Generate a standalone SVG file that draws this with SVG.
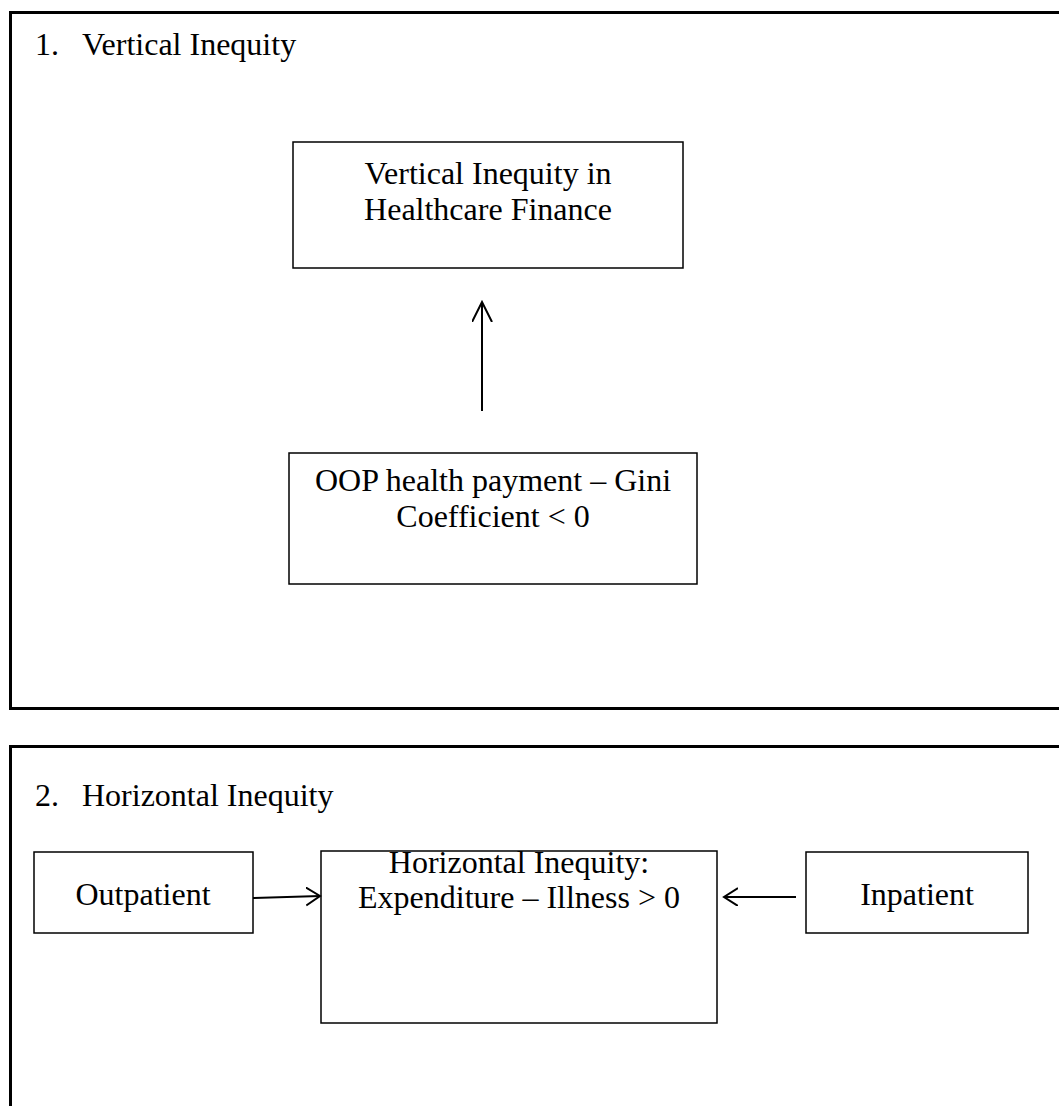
<svg xmlns="http://www.w3.org/2000/svg" width="1059" height="1106" viewBox="0 0 1059 1106">
<style>
.frame{fill:none;stroke:#000;stroke-width:3}
.box{fill:#fff;stroke:#000;stroke-width:1.5}
.t{font-family:"Liberation Serif","Times New Roman",serif;font-size:32px;fill:#000}
.c{text-anchor:middle}
.conn{stroke:#000;stroke-width:2;fill:none}
</style>
<defs>
<marker id="ahv" markerWidth="22" markerHeight="22" refX="20" refY="10" orient="auto" markerUnits="userSpaceOnUse" viewBox="0 0 22 22">
<path d="M0,0 L20,10 L0,20" fill="none" stroke="#000" stroke-width="2"/>
</marker>
<marker id="ahh" markerWidth="16" markerHeight="20" refX="14" refY="9" orient="auto" markerUnits="userSpaceOnUse" viewBox="0 0 16 20">
<path d="M0,0 L14,9 L0,18" fill="none" stroke="#000" stroke-width="2"/>
</marker>
</defs>
<rect width="1059" height="1106" fill="#fff"/>
<g id="section1">
<rect class="frame" x="10.5" y="12.5" width="1060" height="696"/>
<text class="t" x="35" y="55">1.</text>
<text class="t" x="82" y="55">Vertical Inequity</text>
</g>
<g id="section2">
<rect class="frame" x="10.5" y="746.5" width="1060" height="400"/>
<text class="t" x="35" y="806">2.</text>
<text class="t" x="82" y="806">Horizontal Inequity</text>
</g>
<g id="node-vertical">
<rect class="box" x="293" y="142" width="390" height="126"/>
<text class="t c" x="488" y="184">Vertical Inequity in</text>
<text class="t c" x="488" y="220">Healthcare Finance</text>
</g>
<g id="node-oop">
<rect class="box" x="289" y="453" width="408" height="131"/>
<text class="t c" x="493" y="491">OOP health payment – Gini</text>
<text class="t c" x="493" y="527">Coefficient &lt; 0</text>
</g>
<g id="node-horizontal">
<rect class="box" x="321" y="851" width="396" height="172"/>
<text class="t c" x="519" y="873">Horizontal Inequity:</text>
<text class="t c" x="519" y="908">Expenditure – Illness &gt; 0</text>
</g>
<g id="node-outpatient">
<rect class="box" x="34" y="852" width="219" height="81"/>
<text class="t c" x="143" y="905">Outpatient</text>
</g>
<g id="node-inpatient">
<rect class="box" x="806" y="852" width="222" height="81"/>
<text class="t c" x="917" y="905">Inpatient</text>
</g>
<g id="connectors">
<line class="conn" x1="253" y1="898" x2="320" y2="896" marker-end="url(#ahh)"/>
<line class="conn" x1="796" y1="897" x2="724" y2="897" marker-end="url(#ahh)"/>
<line class="conn" x1="482" y1="411" x2="482" y2="302" marker-end="url(#ahv)"/>
</g>
</svg>
